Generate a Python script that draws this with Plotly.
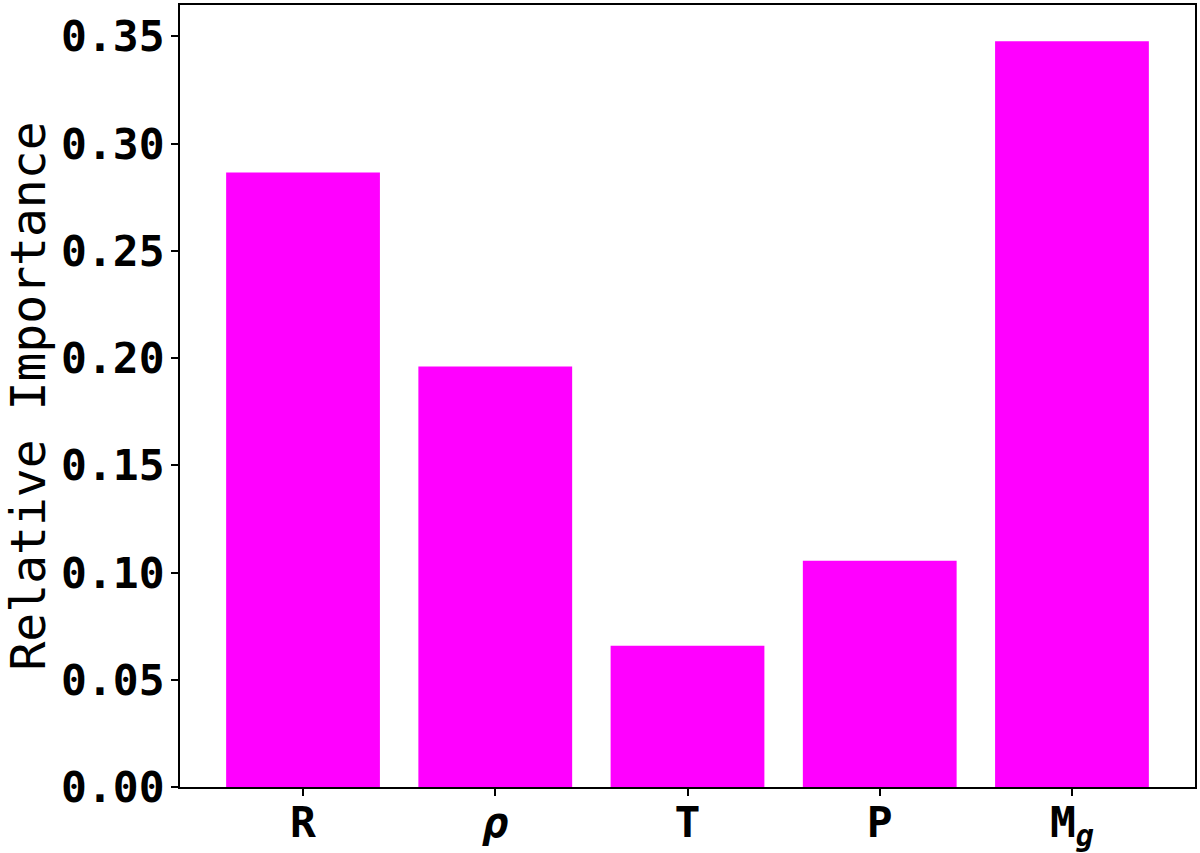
import plotly.graph_objects as go

categories = ["R", "<i>ρ</i>", "T", "P", "M<sub><i>g</i></sub>"]
importance = [0.2865, 0.1960, 0.0658, 0.1055, 0.3477]
y_ticks = [0.00, 0.05, 0.10, 0.15, 0.20, 0.25, 0.30, 0.35]
y_tick_labels = ["0.00", "0.05", "0.10", "0.15", "0.20", "0.25", "0.30", "0.35"]

fig = go.Figure(go.Bar(
    x=list(range(len(categories))),
    y=importance,
    width=0.8,
    marker=dict(color="#FF00FF", line=dict(width=0)),
))

fig.update_layout(
    width=1200, height=853,
    margin=dict(l=180, r=5, t=5, b=66, autoexpand=False),
    paper_bgcolor="white", plot_bgcolor="white",
    showlegend=False,
    font=dict(family="DejaVu Sans Mono", color="black"),
)
fig.update_xaxes(
    range=[-0.64, 4.64], automargin=False,
    tickmode="array", tickvals=list(range(len(categories))), ticktext=categories,
    tickfont=dict(family="DejaVu Sans Mono", size=43, weight="bold"),
    ticks="outside", ticklen=7, tickwidth=1.5, tickcolor="black",
    ticklabelstandoff=-10,
    showline=True, linecolor="black", linewidth=1.5, mirror=True,
    showgrid=False, zeroline=False,
)
fig.update_yaxes(
    range=[0, 0.3646], automargin=False,
    tickmode="array", tickvals=y_ticks, ticktext=y_tick_labels,
    tickfont=dict(family="DejaVu Sans Mono", size=43, weight="bold"),
    ticks="outside", ticklen=7, tickwidth=1.5, tickcolor="black",
    ticklabelstandoff=-2,
    showline=True, linecolor="black", linewidth=1.5, mirror=True,
    showgrid=False, zeroline=False,
    title=dict(text="Relative Importance", font=dict(family="DejaVu Sans Mono", size=48), standoff=22),
)

fig.write_html(
    "out.html",
    config={"displayModeBar": False},
    post_script="document.body.style.margin='0';document.body.style.overflow='hidden';",
)
